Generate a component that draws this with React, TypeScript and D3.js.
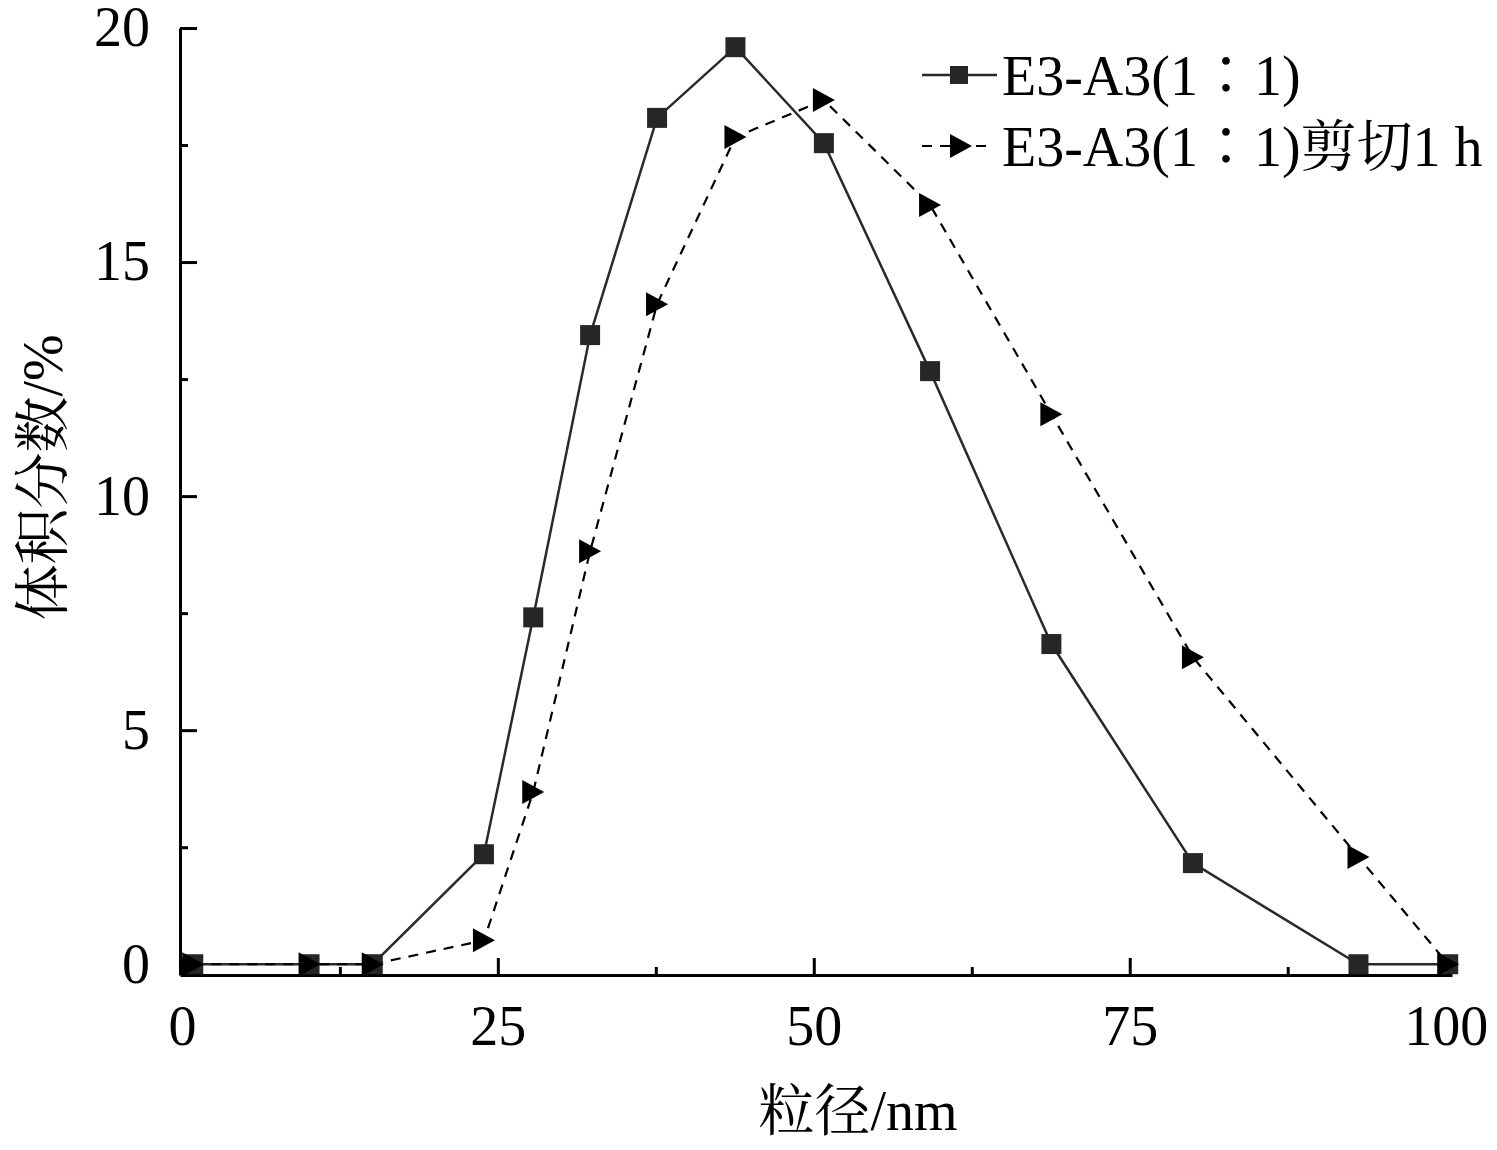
import React, { useEffect, useRef } from "react";
import * as d3 from "d3";

const sizes = [0.9, 10.1, 15.1, 23.9, 27.8, 32.3, 37.6, 43.8, 50.8, 59.2, 68.8, 80.0, 93.1, 100.2];
const volBefore = [0, 0, 0, 2.35, 7.41, 13.44, 18.08, 19.59, 17.54, 12.67, 6.84, 2.16, 0, 0];
const volSheared = [0, 0, 0, 0.51, 3.68, 8.82, 14.1, 17.67, 18.46, 16.22, 11.75, 6.56, 2.29, 0];

const xMajor = [0, 25, 50, 75, 100];
const xMinor = [12.5, 37.5, 62.5, 87.5];
const yMajor = [0, 5, 10, 15, 20];
const yMinor = [2.5, 7.5, 12.5, 17.5];

const legendLabels = ["E3-A3(1\u22361)", "E3-A3(1\u22361)剪切1 h"];

const FONT = "'Liberation Serif', 'Times New Roman', 'Noto Serif CJK SC', 'Noto Sans CJK SC', serif";

const App: React.FC = () => {
  const svgRef = useRef<SVGSVGElement | null>(null);

  useEffect(() => {
    const width = 1497;
    const height = 1150;

    d3.select(svgRef.current).selectAll("*").remove();
    const svg = d3.select(svgRef.current).attr("width", width).attr("height", height);

    const x = d3.scaleLinear().domain([-0.15, 100.5]).range([180, 1452]);
    const y = d3.scaleLinear().domain([-0.23, 20]).range([975, 28]);

    const fontSize = 56;

    // x axis
    const gx = svg
      .append("g")
      .attr("transform", `translate(0,${y(-0.23)})`)
      .call(
        d3.axisBottom(x).tickValues(xMajor).tickSizeInner(-17).tickSizeOuter(0).tickPadding(30).tickFormat(d3.format("d"))
      );
    svg
      .append("g")
      .attr("transform", `translate(0,${y(-0.23)})`)
      .call(d3.axisBottom(x).tickValues(xMinor).tickSizeInner(-8).tickSizeOuter(0).tickFormat(() => ""))
      .select(".domain")
      .remove();

    // y axis
    const gy = svg
      .append("g")
      .attr("transform", `translate(${x(-0.15)},0)`)
      .call(
        d3.axisLeft(y).tickValues(yMajor).tickSizeInner(-17).tickSizeOuter(0).tickPadding(30).tickFormat(d3.format("d"))
      );
    svg
      .append("g")
      .attr("transform", `translate(${x(-0.15)},0)`)
      .call(d3.axisLeft(y).tickValues(yMinor).tickSizeInner(-8).tickSizeOuter(0).tickFormat(() => ""))
      .select(".domain")
      .remove();

    svg.selectAll(".domain").attr("stroke", "#000").attr("stroke-width", 3);
    svg.selectAll(".tick line").attr("stroke", "#000").attr("stroke-width", 3);
    [gx, gy].forEach((g) =>
      g.selectAll("text").attr("font-family", FONT).attr("font-size", fontSize).attr("fill", "#000")
    );

    // axis titles
    svg
      .append("text")
      .attr("x", 858)
      .attr("y", 1130)
      .attr("text-anchor", "middle")
      .attr("font-family", FONT)
      .attr("font-size", fontSize)
      .text("粒径/nm");

    svg
      .append("text")
      .attr("transform", `translate(62,${y(10.4)}) rotate(-90)`)
      .attr("text-anchor", "middle")
      .attr("font-family", FONT)
      .attr("font-size", fontSize)
      .text("体积分数/%");

    const line = d3
      .line<number>()
      .x((_, i) => x(sizes[i]))
      .y((d) => y(d));

    // series 1: solid with squares
    svg
      .append("path")
      .attr("d", line(volBefore))
      .attr("fill", "none")
      .attr("stroke", "#2a2a2a")
      .attr("stroke-width", 2.5);

    // series 2: dashed with triangles
    svg
      .append("path")
      .attr("d", line(volSheared))
      .attr("fill", "none")
      .attr("stroke", "#000")
      .attr("stroke-width", 2.2)
      .attr("stroke-dasharray", "10,8");

    const tri = "M-11,-12L11,0L-11,12Z";

    svg
      .append("g")
      .selectAll("rect")
      .data(volBefore)
      .join("rect")
      .attr("x", (_, i) => x(sizes[i]) - 10)
      .attr("y", (d) => y(d) - 10)
      .attr("width", 20)
      .attr("height", 20)
      .attr("fill", "#262626");

    svg
      .append("g")
      .selectAll("path")
      .data(volSheared)
      .join("path")
      .attr("d", tri)
      .attr("transform", (d, i) => `translate(${x(sizes[i])},${y(d)})`)
      .attr("fill", "#000");

    // legend
    const lg = svg.append("g");
    const rows = [75, 146];
    lg.append("line")
      .attr("x1", 922).attr("x2", 997).attr("y1", rows[0]).attr("y2", rows[0])
      .attr("stroke", "#2a2a2a").attr("stroke-width", 2.5);
    lg.append("rect")
      .attr("x", 950).attr("y", rows[0] - 9).attr("width", 18).attr("height", 18)
      .attr("fill", "#262626");
    lg.append("line")
      .attr("x1", 922).attr("x2", 990).attr("y1", rows[1]).attr("y2", rows[1])
      .attr("stroke", "#000").attr("stroke-width", 2.2).attr("stroke-dasharray", "10,8");
    lg.append("path")
      .attr("d", tri)
      .attr("transform", `translate(961,${rows[1]})`)
      .attr("fill", "#000");

    lg.selectAll("text.lbl")
      .data(legendLabels)
      .join("text")
      .attr("class", "lbl")
      .attr("x", 1002)
      .attr("y", (_, i) => rows[i])
      .attr("dy", "0.35em")
      .attr("font-family", FONT)
      .attr("font-size", fontSize)
      .attr("fill", "#000")
      .text((d) => d);
  }, []);

  return (
    <svg
      ref={svgRef}
      style={{ position: "absolute", left: 0, top: 0, background: "#fff" }}
    ></svg>
  );
};

export default App;
